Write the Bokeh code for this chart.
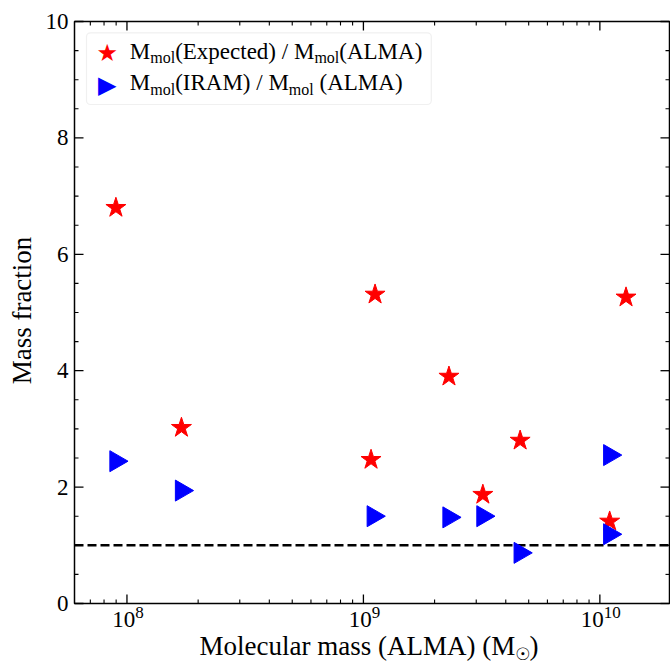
import math
from bokeh.plotting import figure
from bokeh.models import Range1d, Label, BoxAnnotation
from bokeh.embed import file_html
from bokeh.resources import INLINE

# ---- data ----
star_mass = [8.98e7, 1.70e8, 1.077e9, 1.12e9, 2.30e9, 3.20e9, 4.60e9, 1.10e10, 1.29e10]
star_frac = [6.80, 3.02, 2.47, 5.31, 3.90, 1.87, 2.80, 1.41, 5.26]
tri_mass = [8.98e7, 1.70e8, 1.10e9, 2.30e9, 3.20e9, 4.60e9, 1.10e10, 1.10e10]
tri_frac = [2.445, 1.94, 1.50, 1.48, 1.50, 0.87, 2.55, 1.19]
reference_level = 1.0
x_limits = (6.0e7, 1.97e10)
y_limits = (0.0, 10.0)
x_major = [1e8, 1e9, 1e10]
x_exponents = ["8", "9", "10"]
y_major = [0, 2, 4, 6, 8, 10]
y_minor_step = 0.5
star_label = [("M", 0), ("mol", 1), ("(Expected) / M", 0), ("mol", 1), ("(ALMA)", 0)]
tri_label = [("M", 0), ("mol", 1), ("(IRAM) / M", 0), ("mol", 1), (" (ALMA)", 0)]
x_label = [("Molecular mass (ALMA) (M", 0), ("\u2609", 1), (")", 0)]
y_label = "Mass fraction"

FONT = "Liberation Serif"
SYM_FONT = "DejaVu Sans"
W = {'M': .889, 'o': .5, 'l': .278, 'e': .444, 'c': .444, 'u': .5, 'a': .444, 'r': .333,
     ' ': .25, 'm': .778, 's': .389, '(': .333, ')': .333, 'A': .722, 'L': .611, 'E': .611,
     'x': .5, 'p': .5, 't': .278, 'd': .5, '/': .278, 'I': .333, 'R': .667, '\u2609': .84}
MID = {FONT: 0.3375, SYM_FONT: 0.346}   # em-box middle above the baseline

def tw(s, size):
    return sum(W.get(ch, .5) for ch in s) * size

# ---- canvas geometry (px): the axes box inside a full-canvas frame ----
CW, CH = 670, 662
BOX_L, BOX_R, BOX_T, BOX_B = 74, 669, 21, 603
lx0, lx1 = math.log10(x_limits[0]), math.log10(x_limits[1])
ppd = (BOX_R - BOX_L) / (lx1 - lx0)
ppu = (BOX_B - BOX_T) / (y_limits[1] - y_limits[0])
x_range = Range1d(10 ** (lx0 - BOX_L / ppd), 10 ** (lx1 + (CW - BOX_R) / ppd))
y_range = Range1d(y_limits[0] - (CH - BOX_B) / ppu, y_limits[1] + BOX_T / ppu)

p = figure(x_axis_type="log", width=CW, height=CH, x_range=x_range, y_range=y_range,
           output_backend="svg", toolbar_location=None, min_border=0,
           x_axis_location=None, y_axis_location=None)
p.outline_line_color = None
p.xgrid.visible = False
p.ygrid.visible = False

def page_y(baseline, size, font=FONT):
    """screen y (measured up from the bottom) of a text's middle for a given page baseline"""
    return CH - (baseline - MID[font] * size)

# ---- ticks (pointing inward on all four sides) ----
x_minor = [k * 10 ** d for d in range(7, 11) for k in range(2, 10)
           if x_limits[0] < k * 10 ** d < x_limits[1]]
n_half = int(round((y_limits[1] - y_limits[0]) / y_minor_step))
y_minor = [y_limits[0] + i * y_minor_step for i in range(n_half + 1)
           if (y_limits[0] + i * y_minor_step) not in y_major]

def ticks(xs, ys, ang, length, lw):
    p.ray(x=xs, y=ys, length=length, length_units="screen", angle=ang,
          line_color="black", line_width=lw)

for xs, L, lw in [(x_major, 9, 1.3), (x_minor, 4, 1.1)]:
    ticks(xs, [y_limits[0]] * len(xs), math.pi / 2, L, lw)
    ticks(xs, [y_limits[1]] * len(xs), -math.pi / 2, L, lw)
for ys, L, lw in [(y_major, 9, 1.3), (y_minor, 4, 1.1)]:
    ticks([x_limits[0]] * len(ys), ys, 0, L, lw)
    ticks([x_limits[1]] * len(ys), ys, math.pi, L, lw)

# ---- reference line and data ----
p.segment(x0=[x_limits[0]], x1=[x_limits[1]], y0=[reference_level], y1=[reference_level],
          line_color="black", line_width=2.5, line_dash="9 4")
p.scatter(star_mass, star_frac, marker="star", size=21, color="#ff0000")
p.scatter(tri_mass, tri_frac, marker="triangle", size=21, angle=-math.pi / 2, color="#0000ff")

# ---- axes box ----
p.quad(left=[x_limits[0]], right=[x_limits[1]], bottom=[y_limits[0]], top=[y_limits[1]],
       fill_color=None, line_color="black", line_width=1.5)

# ---- tick labels ----
TF, EF = 23, 17
for v in y_major:
    p.add_layout(Label(x=x_limits[0], y=v, x_offset=-6, text=str(v), text_font=FONT,
                       text_font_size=f"{TF}px", text_color="black",
                       text_align="right", text_baseline="middle"))
for v, e in zip(x_major, x_exponents):
    split = (tw("10", TF) - tw(e, EF)) / 2 + 1
    p.add_layout(Label(x=v, y=page_y(627, TF), y_units="screen", x_offset=split, text="10",
                       text_font=FONT, text_font_size=f"{TF}px", text_color="black",
                       text_align="right", text_baseline="middle"))
    p.add_layout(Label(x=v, y=page_y(618, EF), y_units="screen", x_offset=split, text=e,
                       text_font=FONT, text_font_size=f"{EF}px", text_color="black",
                       text_align="left", text_baseline="middle"))


def runs(parts, x0, baseline, size, sub_size, sub_drop, sub_font=FONT):
    x = x0
    for txt, is_sub in parts:
        s = sub_size if is_sub else size
        f = sub_font if is_sub else FONT
        lead = len(txt) - len(txt.lstrip(" "))
        x += tw(" " * lead, s)
        txt = txt.lstrip(" ")
        b = baseline + (sub_drop if is_sub else 0)
        p.add_layout(Label(x=x, y=page_y(b, s, f), x_units="screen",
                           y_units="screen", text=txt, text_font=f,
                           text_font_size=f"{s}px", text_color="black",
                           text_align="left", text_baseline="middle"))
        x += tw(txt, s)
    return x

# ---- axis titles ----
AF = 27
xl_w = sum(tw(t, 17 if s else AF) for t, s in x_label)
runs(x_label, 368.5 - xl_w / 2, 655, AF, 17, 4, sub_font=SYM_FONT)
p.add_layout(Label(x=31 - MID[FONT] * AF, y=CH - 310, x_units="screen", y_units="screen",
                   text=y_label, angle=math.pi / 2, text_font=FONT,
                   text_font_size=f"{AF}px", text_color="black",
                   text_align="center", text_baseline="middle"))

# ---- hand-made legend (canvas px) ----
LF, SF = 23, 16
tx = 129.3
rows = [(star_label, "\u2605", "#ff0000", 58.3, 52.3),
        (tri_label, "\u25B6", "#0000ff", 90.0, 84.0)]
row_w = max(sum(tw(t, SF if s else LF) for t, s in r[0]) for r in rows)
p.add_layout(BoxAnnotation(left=86, right=tx + row_w + 9, top=CH - 32.3, bottom=CH - 104,
                           left_units="screen", right_units="screen",
                           top_units="screen", bottom_units="screen",
                           fill_color="white", fill_alpha=0.8,
                           line_color="#cccccc", line_width=1.2, border_radius=4))
for parts, sym, col, base, gy in rows:
    p.add_layout(Label(x=106.7, y=CH - gy, x_units="screen", y_units="screen", text=sym,
                       text_color=col, text_font=SYM_FONT, text_font_size="24px",
                       text_align="center", text_baseline="middle"))
    runs(parts, tx, base, LF, SF, 4)

open("out.html", "w").write(file_html(p, INLINE))
